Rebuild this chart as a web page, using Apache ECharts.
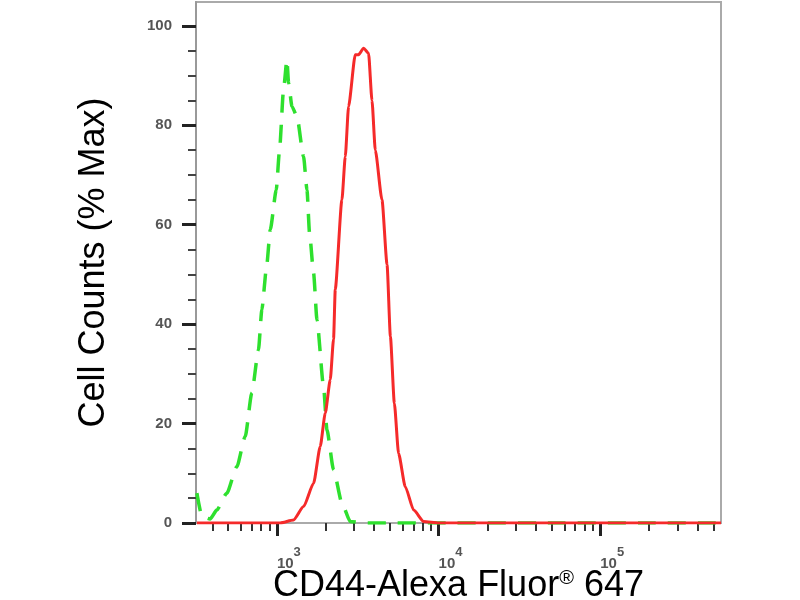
<!DOCTYPE html>
<html>
<head>
<meta charset="utf-8">
<title>CD44-Alexa Fluor 647</title>
<script src="https://cdn.jsdelivr.net/npm/echarts@6/dist/echarts.min.js"></script>
<style>
    html, body { margin: 0; padding: 0; background: #fff; }
    #flowChart { width: 800px; height: 600px; }
</style>
</head>
<body>
<div id="flowChart"></div>
<script>
// isotype control (green dashed)
const isoX = [320, 344, 386, 425, 490, 565, 637, 700, 769, 807, 863, 910, 991, 1038, 1099, 1153, 1181, 1239, 1330, 1462, 1535, 1592, 1686, 1770, 1944, 2040, 2241, 2524, 2843, 3500, 5000, 10000, 50000, 200000, 558000];
const isoY = [6, 1.3, 0.8, 2.6, 6, 11.3, 17.4, 26.2, 34.8, 42.9, 51.5, 59, 67, 75, 87.1, 93.2, 88.5, 83.8, 81.8, 73.7, 67, 58.3, 50.3, 40.8, 27.4, 18.7, 10.7, 4, 0.3, 0, 0, 0, 0, 0, 0];

// CD44 stained sample (red)
const cdX = [320, 1048, 1267, 1462, 1686, 1854, 1991, 2138, 2241, 2296, 2524, 2648, 2775, 3053, 3201, 3436, 3689, 3873, 4060, 4467, 4800, 5035, 5326, 5656, 6223, 7010, 8085, 10000, 50000, 200000, 558000];
const cdY = [0, 0, 0.6, 3.3, 8, 15.4, 22.1, 28.8, 37, 47, 65, 73.7, 83.8, 94.2, 94.2, 95.5, 94.5, 85, 75, 65, 52, 37.5, 24.1, 14, 7.3, 2.6, 0.3, 0, 0, 0, 0];

// axis ticks
const xMajorTicks = [1000, 10000, 100000];
const xMinorTicks = [400, 500, 600, 700, 800, 900,
    2000, 3000, 4000, 5000, 6000, 7000, 8000, 9000,
    20000, 30000, 40000, 50000, 60000, 70000, 80000, 90000,
    200000, 300000, 400000, 500000];
const yMajorTicks = [0, 20, 40, 60, 80, 100];
const yMinorTicks = [5, 10, 15, 25, 30, 35, 45, 50, 55, 65, 70, 75, 85, 90, 95];

const xMin = 316;
const xMax = 558000;
const yMax = 104.8;

document.addEventListener('DOMContentLoaded', function () {
    initFlowChart();
});

function zip(xs, ys) {
    return xs.map(function (x, i) { return [x, ys[i]]; });
}

function initFlowChart() {
    const chartDom = document.getElementById('flowChart');
    if (!chartDom) return;

    const myChart = echarts.init(chartDom);
    const font = 'Liberation Sans, Arial, sans-serif';

    const option = {
        backgroundColor: '#fff',
        animation: false,
        grid: {
            left: 196,
            right: 79,
            top: 2,
            bottom: 77,
            outerBoundsMode: 'none',
            show: true,
            borderColor: '#aaa',
            borderWidth: 2
        },
        xAxis: [
            {
                type: 'log',
                logBase: 10,
                min: xMin,
                max: xMax,
                position: 'bottom',
                axisLine: { show: true, lineStyle: { color: '#aaa', width: 2 } },
                axisTick: {
                    show: true,
                    customValues: xMajorTicks,
                    length: 13,
                    lineStyle: { color: '#222', width: 3 }
                },
                axisLabel: {
                    customValues: xMajorTicks,
                    align: 'left',
                    margin: 23,
                    formatter: function (v) {
                        return '{b|10}{s|' + Math.round(Math.log10(v)) + '}';
                    },
                    rich: {
                        b: { fontFamily: font, fontSize: 15, fontWeight: 'bold', color: '#555', verticalAlign: 'bottom', padding: [10, 0, 0, 0] },
                        s: { fontFamily: font, fontSize: 13, fontWeight: 'bold', color: '#555', verticalAlign: 'top' }
                    }
                },
                splitLine: { show: false },
                name: 'CD44-Alexa Fluor{r|®} 647',
                nameLocation: 'middle',
                nameGap: 45,
                nameMoveOverlap: false,
                nameTextStyle: {
                    fontFamily: font,
                    fontSize: 36,
                    color: '#000',
                    rich: {
                        r: { fontFamily: font, fontSize: 20, color: '#000', verticalAlign: 'top' }
                    }
                }
            },
            {
                // minor ticks
                type: 'log',
                logBase: 10,
                min: xMin,
                max: xMax,
                position: 'bottom',
                axisLine: { show: false },
                axisTick: {
                    show: true,
                    customValues: xMinorTicks,
                    length: 8,
                    lineStyle: { color: '#333', width: 2 }
                },
                axisLabel: { show: false },
                splitLine: { show: false }
            }
        ],
        yAxis: [
            {
                type: 'value',
                min: 0,
                max: yMax,
                position: 'left',
                axisLine: { show: true, lineStyle: { color: '#999', width: 2 } },
                axisTick: {
                    show: true,
                    customValues: yMajorTicks,
                    length: 14,
                    lineStyle: { color: '#222', width: 3 }
                },
                axisLabel: {
                    customValues: yMajorTicks,
                    margin: 24,
                    fontFamily: font,
                    fontSize: 15,
                    fontWeight: 'bold',
                    color: '#555'
                },
                splitLine: { show: false },
                name: 'Cell Counts (% Max)',
                nameLocation: 'middle',
                nameGap: 84,
                nameMoveOverlap: false,
                nameTextStyle: {
                    fontFamily: font,
                    fontSize: 36,
                    color: '#000'
                }
            },
            {
                // minor ticks
                type: 'value',
                min: 0,
                max: yMax,
                position: 'left',
                axisLine: { show: false },
                axisTick: {
                    show: true,
                    customValues: yMinorTicks,
                    length: 8,
                    lineStyle: { color: '#444', width: 2 }
                },
                axisLabel: { show: false },
                splitLine: { show: false }
            }
        ],
        series: [
            {
                name: 'Isotype',
                type: 'line',
                xAxisIndex: 0,
                yAxisIndex: 0,
                data: zip(isoX, isoY),
                symbol: 'none',
                smooth: 0.2,
                smoothMonotone: 'x',
                lineStyle: { color: '#2ee02e', width: 3.5, type: [18, 12] }
            },
            {
                name: 'CD44',
                type: 'line',
                xAxisIndex: 0,
                yAxisIndex: 0,
                data: zip(cdX, cdY),
                symbol: 'none',
                smooth: 0.2,
                smoothMonotone: 'x',
                lineStyle: { color: '#f52a2a', width: 3 }
            }
        ]
    };

    myChart.setOption(option);

    window.addEventListener('resize', function () {
        myChart.resize();
    });
}
</script>
</body>
</html>
